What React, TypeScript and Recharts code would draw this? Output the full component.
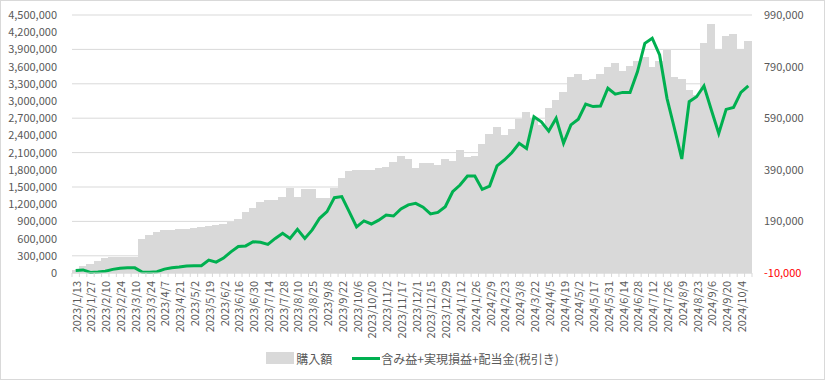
import React from 'react';
import { ComposedChart, Bar, Line, XAxis, YAxis, CartesianGrid, Legend } from 'recharts';

const weeks = [
  '2023/1/13', '2023/1/20', '2023/1/27', '2023/2/3', '2023/2/10', '2023/2/17', '2023/2/24', '2023/3/3',
  '2023/3/10', '2023/3/17', '2023/3/24', '2023/3/31', '2023/4/7', '2023/4/14', '2023/4/21', '2023/4/28',
  '2023/5/2', '2023/5/12', '2023/5/19', '2023/5/26', '2023/6/2', '2023/6/9', '2023/6/16', '2023/6/23',
  '2023/6/30', '2023/7/7', '2023/7/14', '2023/7/21', '2023/7/28', '2023/8/4', '2023/8/10', '2023/8/18',
  '2023/8/25', '2023/9/1', '2023/9/8', '2023/9/15', '2023/9/22', '2023/9/29', '2023/10/6', '2023/10/13',
  '2023/10/20', '2023/10/27', '2023/11/2', '2023/11/10', '2023/11/17', '2023/11/24', '2023/12/1', '2023/12/8',
  '2023/12/15', '2023/12/22', '2023/12/29', '2024/1/5', '2024/1/12', '2024/1/19', '2024/1/26', '2024/2/2',
  '2024/2/9', '2024/2/16', '2024/2/23', '2024/3/1', '2024/3/8', '2024/3/15', '2024/3/22', '2024/3/29',
  '2024/4/5', '2024/4/12', '2024/4/19', '2024/4/26', '2024/5/2', '2024/5/10', '2024/5/17', '2024/5/24',
  '2024/5/31', '2024/6/7', '2024/6/14', '2024/6/21', '2024/6/28', '2024/7/5', '2024/7/12', '2024/7/19',
  '2024/7/26', '2024/8/2', '2024/8/9', '2024/8/16', '2024/8/23', '2024/8/30', '2024/9/6', '2024/9/13',
  '2024/9/20', '2024/9/27', '2024/10/4', '2024/10/11',
];

// 購入額
const purchase = [
  50000, 130000, 160000, 215000, 270000, 285000, 285000, 285000,
  285000, 590000, 660000, 710000, 750000, 755000, 760000, 770000,
  780000, 800000, 820000, 840000, 860000, 895000, 940000, 1070000,
  1130000, 1245000, 1275000, 1275000, 1330000, 1490000, 1320000, 1465000,
  1465000, 1300000, 1300000, 1475000, 1650000, 1775000, 1805000, 1795000,
  1795000, 1840000, 1850000, 1930000, 2040000, 1995000, 1825000, 1910000,
  1910000, 1890000, 1995000, 1955000, 2150000, 2025000, 2040000, 2255000,
  2430000, 2545000, 2405000, 2515000, 2680000, 2805000, 2700000, 2580000,
  2885000, 3020000, 3160000, 3410000, 3470000, 3360000, 3380000, 3465000,
  3600000, 3655000, 3525000, 3615000, 3690000, 3760000, 3600000, 3700000,
  3890000, 3420000, 3385000, 3190000, 3105000, 4005000, 4350000, 3900000,
  4135000, 4170000, 3900000, 4045000,
];

// 含み益+実現損益+配当金(税引き)
const profit = [
  0, 2000, -8000, -6000, -3000, 4000, 8000, 10000,
  10000, -6000, -7000, -5000, 5000, 10000, 13000, 17000,
  18000, 18000, 40000, 32000, 48000, 72000, 93000, 95000,
  111000, 109000, 101000, 124000, 144000, 124000, 159000, 124000,
  157000, 202000, 228000, 282000, 286000, 228000, 169000, 192000,
  180000, 195000, 215000, 211000, 238000, 254000, 260000, 245000,
  219000, 225000, 247000, 305000, 331000, 366000, 366000, 314000,
  327000, 405000, 428000, 456000, 493000, 473000, 596000, 576000,
  540000, 590000, 493000, 564000, 586000, 645000, 635000, 637000,
  706000, 683000, 690000, 690000, 770000, 880000, 900000, 835000,
  667000, 551000, 432000, 654000, 673000, 715000, 622000, 531000,
  624000, 632000, 690000, 715000,
];

const leftTicks = [0, 300000, 600000, 900000, 1200000, 1500000, 1800000, 2100000, 2400000, 2700000, 3000000, 3300000, 3600000, 3900000, 4200000, 4500000];
const rightTicks = [-10000, 190000, 390000, 590000, 790000, 990000];

const data = weeks.map((w, i) => ({ week: w, purchase: purchase[i], profit: profit[i] }));

const W = 825;
const H = 380;
const LEFT_W = 72;
const RIGHT_W = 73;
const BAND = (W - LEFT_W - RIGHT_W) / weeks.length;
const FONT = '"Noto Sans CJK JP", sans-serif';
const TEXT = '#595959';
const GRID = '#d9d9d9';

const DateTick = (props: any) => {
  const { x, y, payload, index } = props;
  const bx = x - BAND / 2;
  return (
    <g>
      <line x1={bx} y1={y} x2={bx} y2={y + 4} stroke={GRID} />
      {index === weeks.length - 1 && <line x1={bx + BAND} y1={y} x2={bx + BAND} y2={y + 4} stroke={GRID} />}
      {index % 2 === 0 && (
        <text
          x={x}
          y={y + 8}
          transform={`rotate(-90, ${x}, ${y + 8})`}
          textAnchor="end"
          dominantBaseline="central"
          fill={TEXT}
          fontSize={11}
          fontFamily={FONT}
        >
          {payload.value}
        </text>
      )}
    </g>
  );
};

const RightTick = (props: any) => {
  const { x, y, payload } = props;
  return (
    <text x={x} y={y} dy={4} textAnchor="start" fill={payload.value < 0 ? '#ff0000' : TEXT} fontSize={11} fontFamily={FONT}>
      {payload.value.toLocaleString('en-US')}
    </text>
  );
};

// bars touch each other, so widen a hair and snap to pixels to avoid seams
const FlatBar = (props: any) => {
  const { x, y, width, height, fill } = props;
  if (!height) return null;
  return <rect x={x - 0.5} y={y} width={width + 1} height={height} fill={fill} shapeRendering="crispEdges" />;
};

const LegendBox = () => (
  <div style={{ display: 'flex', justifyContent: 'center', alignItems: 'center', height: 20, fontFamily: FONT, fontSize: 12, color: TEXT }}>
    <span style={{ display: 'inline-block', width: 28, height: 12, background: GRID, marginRight: 2 }} />
    <span style={{ marginRight: 20 }}>購入額</span>
    <span style={{ display: 'inline-block', width: 28, height: 3, background: '#00b050', marginRight: 1 }} />
    <span>含み益+実現損益+配当金(税引き)</span>
  </div>
);

export default function App() {
  return (
    <div style={{ position: 'relative', width: W, height: H, background: '#fff' }}>
      <style>{'body{margin:0}'}</style>
      <ComposedChart
        width={W}
        height={H}
        data={data}
        margin={{ top: 15, right: 0, bottom: 12, left: 0 }}
        barCategoryGap={0}
        barGap={0}
      >
        <CartesianGrid vertical={false} stroke={GRID} yAxisId="left" />
        <XAxis
          dataKey="week"
          interval={0}
          height={75}
          axisLine={{ stroke: GRID }}
          tickLine={false}
          tickSize={0}
          tickMargin={0}
          tick={<DateTick />}
        />
        <YAxis
          yAxisId="left"
          width={LEFT_W}
          domain={[0, 4500000]}
          ticks={leftTicks}
          axisLine={false}
          tickLine={false}
          tickMargin={9}
          tick={{ fill: TEXT, fontSize: 11, fontFamily: FONT }}
          tickFormatter={(v: number) => v.toLocaleString('en-US')}
        />
        <YAxis
          yAxisId="right"
          orientation="right"
          width={RIGHT_W}
          domain={[-10000, 990000]}
          ticks={rightTicks}
          axisLine={false}
          tickLine={false}
          tickMargin={6}
          tick={<RightTick />}
        />
        <Legend verticalAlign="bottom" content={<LegendBox />} />
        <Bar
          yAxisId="left"
          dataKey="purchase"
          name="購入額"
          fill={GRID}
          shape={<FlatBar />}
          isAnimationActive={false}
        />
        <Line
          yAxisId="right"
          dataKey="profit"
          name="含み益+実現損益+配当金(税引き)"
          type="linear"
          stroke="#00b050"
          strokeWidth={3}
          dot={false}
          isAnimationActive={false}
        />
      </ComposedChart>
      <div style={{ position: 'absolute', inset: 0, border: `1px solid ${GRID}`, pointerEvents: 'none' }} />
    </div>
  );
}
